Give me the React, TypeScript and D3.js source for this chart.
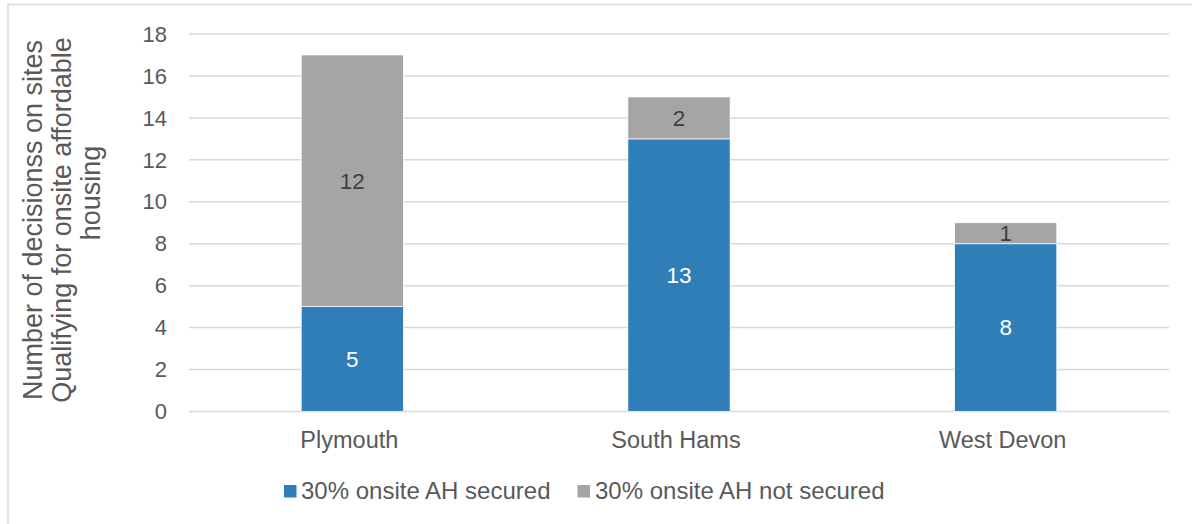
import React from "react";
import * as d3 from "d3";

const categories = ["Plymouth", "South Hams", "West Devon"];
const securedValues = [5, 13, 8];
const notSecuredValues = [12, 2, 1];
const seriesNames = ["30% onsite AH secured", "30% onsite AH not secured"];
const yTicks = [0, 2, 4, 6, 8, 10, 12, 14, 16, 18];
const yTitleLines = ["Number of decisionss on sites", "Qualifying for onsite affordable", "housing"];

const W = 1192;
const H = 524;
const plot = { left: 189, right: 1169, top: 34, bottom: 411.5 };
const BLUE = "#2F7EB8";
const GRAY = "#A5A5A5";
const TEXT = "#595959";
const FONT = "'Liberation Sans', Arial, sans-serif";

export default function App() {
  const x = d3.scaleBand<string>().domain(categories).range([plot.left, plot.right]).paddingInner(0.687).paddingOuter(0.3435);
  const y = d3.scaleLinear().domain([0, 18]).range([plot.bottom, plot.top]);

  const stackData = categories.map((c, i) => ({ cat: c, secured: securedValues[i], notSecured: notSecuredValues[i] }));
  const stack = d3.stack<any>().keys(["secured", "notSecured"])(stackData);
  const colors = [BLUE, GRAY];
  const labelColors = ["#FFFFFF", "#404040"];
  const titleCenters = [220, 220, 193];

  return (
    <svg width={W} height={H} style={{ position: "absolute", left: 0, top: 0, background: "#fff" }} fontFamily={FONT}>
      <rect x={8} y={4.5} width={W + 20} height={H + 20} fill="#fff" stroke="#D9D9D9" strokeWidth={1.5} />
      {yTicks.map((t) => (
        <g key={t}>
          <line x1={plot.left} x2={plot.right} y1={y(t)} y2={y(t)} stroke="#D9D9D9" strokeWidth={1.5} />
          <text x={167} y={y(t)} dy="0.35em" textAnchor="end" fontSize={22} fill={TEXT}>{t}</text>
        </g>
      ))}
      {stack.map((layer, si) => (
        <g key={si}>
          {layer.map((d, i) => {
            const cat = categories[i];
            const y0 = y(d[0]);
            const y1 = y(d[1]);
            return (
              <g key={cat}>
                <rect x={x(cat)} y={y1} width={x.bandwidth()} height={y0 - y1} fill={colors[si]} stroke="#fff" strokeWidth={0.75} />
                <text x={(x(cat) as number) + x.bandwidth() / 2} y={(y0 + y1) / 2} dy="0.35em" textAnchor="middle" fontSize={22.5} fill={labelColors[si]}>
                  {d[1] - d[0]}
                </text>
              </g>
            );
          })}
        </g>
      ))}
      {categories.map((c) => (
        <text key={c} x={(x(c) as number) + x.bandwidth() / 2 - 3} y={440} dy="0.35em" textAnchor="middle" fontSize={23.5} fill={TEXT}>{c}</text>
      ))}
      {yTitleLines.map((l, i) => (
        <text key={i} transform={`translate(${33 + i * 29},${titleCenters[i]}) rotate(-90)`} x={0} y={0} dy="0.35em" textAnchor="middle" fontSize={27} fill={TEXT}>{l}</text>
      ))}
      <g>
        <rect x={284} y={485} width={12.5} height={12.5} fill={BLUE} />
        <text x={301} y={491} dy="0.35em" fontSize={24} fill={TEXT}>{seriesNames[0]}</text>
        <rect x={577.5} y={485} width={12.5} height={12.5} fill={GRAY} />
        <text x={595} y={491} dy="0.35em" fontSize={24} fill={TEXT}>{seriesNames[1]}</text>
      </g>
    </svg>
  );
}
